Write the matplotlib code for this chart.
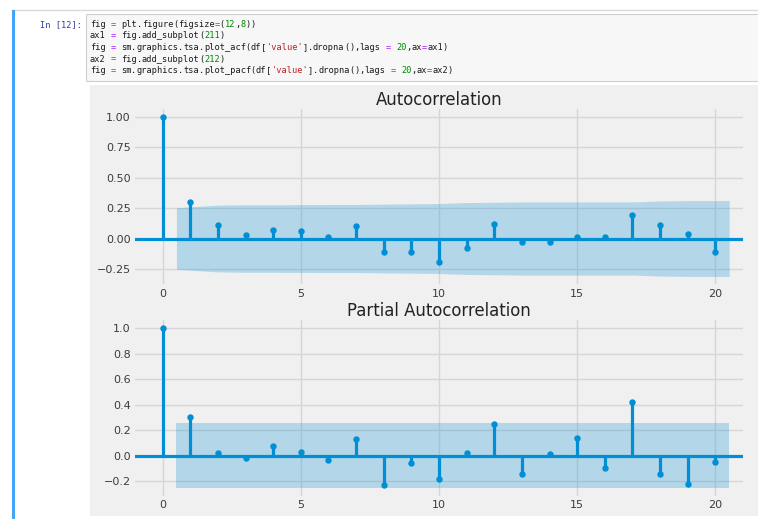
import re
import numpy as np
import matplotlib
matplotlib.use('Agg')
import matplotlib.pyplot as plt
from matplotlib.patches import Rectangle
from matplotlib.lines import Line2D

# ---- data ----
lags = list(range(0, 21))
acf_vals = [1.00, 0.30, 0.11, 0.025, 0.068, 0.065, 0.015, 0.107, -0.112, -0.112, -0.194,
            -0.074, 0.123, -0.027, -0.025, 0.016, 0.016, 0.197, 0.115, 0.041, -0.109]
# half-width of the 95% band for lags 1..20
acf_band = [0.253, 0.275, 0.278, 0.278, 0.279, 0.280, 0.280, 0.283, 0.285, 0.288,
            0.296, 0.298, 0.301, 0.301, 0.301, 0.301, 0.301, 0.309, 0.312, 0.312]
pacf_vals = [1.00, 0.306, 0.019, -0.021, 0.076, 0.029, -0.034, 0.134, -0.230, -0.060, -0.183,
             0.021, 0.246, -0.146, 0.013, 0.139, -0.094, 0.424, -0.146, -0.222, -0.049]
pacf_band = [0.253] * 20
xticks = [0, 5, 10, 15, 20]
acf_yticks = [-0.25, 0.0, 0.25, 0.5, 0.75, 1.0]
pacf_yticks = [-0.2, 0.0, 0.2, 0.4, 0.6, 0.8, 1.0]

code_lines = ["fig = plt.figure(figsize=(12,8))",
              "ax1 = fig.add_subplot(211)",
              "fig = sm.graphics.tsa.plot_acf(df['value'].dropna(),lags = 20,ax=ax1)",
              "ax2 = fig.add_subplot(212)",
              "fig = sm.graphics.tsa.plot_pacf(df['value'].dropna(),lags = 20,ax=ax2)"]
prompt = "In [12]:"

# ---- layout helpers (pixels -> figure fraction) ----
W, H = 758, 519
def fx(x): return x / W
def fy(y): return 1 - y / H

blue = '#008fd5'
bg = '#f0f0f0'

fig = plt.figure(figsize=(W / 100, H / 100), dpi=100, facecolor='white')

# notebook chrome (kept behind the axes)
fig.add_artist(Line2D([fx(12), fx(758)], [fy(10), fy(10)], color='#d9d9d9', lw=1.0,
                      transform=fig.transFigure, zorder=-5))
fig.add_artist(Rectangle((fx(86), fy(81)), fx(680), 67 / H, facecolor='#f7f7f7', edgecolor='#cfcfcf',
                         lw=0.8, transform=fig.transFigure, zorder=-5))
fig.add_artist(Rectangle((fx(90), fy(516)), fx(670), 431 / H, facecolor=bg, edgecolor='none',
                         transform=fig.transFigure, zorder=-5))
fig.add_artist(Rectangle((fx(12), 0), fx(3), fy(10), facecolor='#42a5f5', edgecolor='none',
                         transform=fig.transFigure, zorder=-5))

mono = 'DejaVu Sans Mono'
fs = 6.2
charw = 0.6021 * fs * 100 / 72
fig.text(fx(40.5), fy(24.3), prompt, family=mono, fontsize=fs, color='#303f9f', va='center')

tok = re.compile(r"('[^']*')|([A-Za-z_]\w*)|(\d+)|(=)|(.)")
for i, line in enumerate(code_lines):
    yy = fy(24.3 + i * 11.6)
    for m in tok.finditer(line):
        s = m.group(0)
        if s.strip() == '':
            continue
        if m.group(1): c = '#ba2121'
        elif m.group(3): c = '#008800'
        elif m.group(4): c = '#aa22ff'
        else: c = '#1a1a1a'
        fig.text(fx(90 + m.start() * charw), yy, s, family=mono, fontsize=fs, color=c, va='center')

# ---- correlation plots ----
def corr_plot(ax, vals, band, yticks, title):
    ax.set_facecolor(bg)
    for s in ax.spines.values():
        s.set_visible(False)
    ax.grid(True, color='#d6d6d6', lw=1.0)
    ax.set_axisbelow(True)
    ax.vlines(lags, 0, vals, color=blue, lw=2.3, zorder=3)
    ax.axhline(0, color=blue, lw=2.3, zorder=3)
    ax.plot(lags, vals, marker='o', markersize=3.6, linestyle='None', color=blue, zorder=4)
    bx = np.array(lags[1:], dtype=float)
    bx[0] -= 0.5
    bx[-1] += 0.5
    band = np.array(band)
    ax.fill_between(bx, -band, band, color=blue, alpha=0.25, lw=0, zorder=2)
    ax.set_xlim(-1, 21)
    ax.margins(y=0.05)
    ax.set_xticks(xticks)
    ax.set_yticks(yticks)
    ax.tick_params(length=0, pad=3.2, labelsize=8, labelcolor='#3c3c3c')
    ax.set_title(title, fontsize=11.9, color='#222222', pad=3)

ax1 = fig.add_axes([fx(135), fy(284.4), 608 / W, 175.4 / H])
corr_plot(ax1, acf_vals, acf_band, acf_yticks, 'Autocorrelation')
ax1.set_yticklabels(['−0.25', '0.00', '0.25', '0.50', '0.75', '1.00'])

ax2 = fig.add_axes([fx(135), fy(495.9), 608 / W, 175.6 / H])
corr_plot(ax2, pacf_vals, pacf_band, pacf_yticks, 'Partial Autocorrelation')
ax2.set_yticklabels(['−0.2', '0.0', '0.2', '0.4', '0.6', '0.8', '1.0'])

fig.savefig('out.png', dpi=100, facecolor='white')
